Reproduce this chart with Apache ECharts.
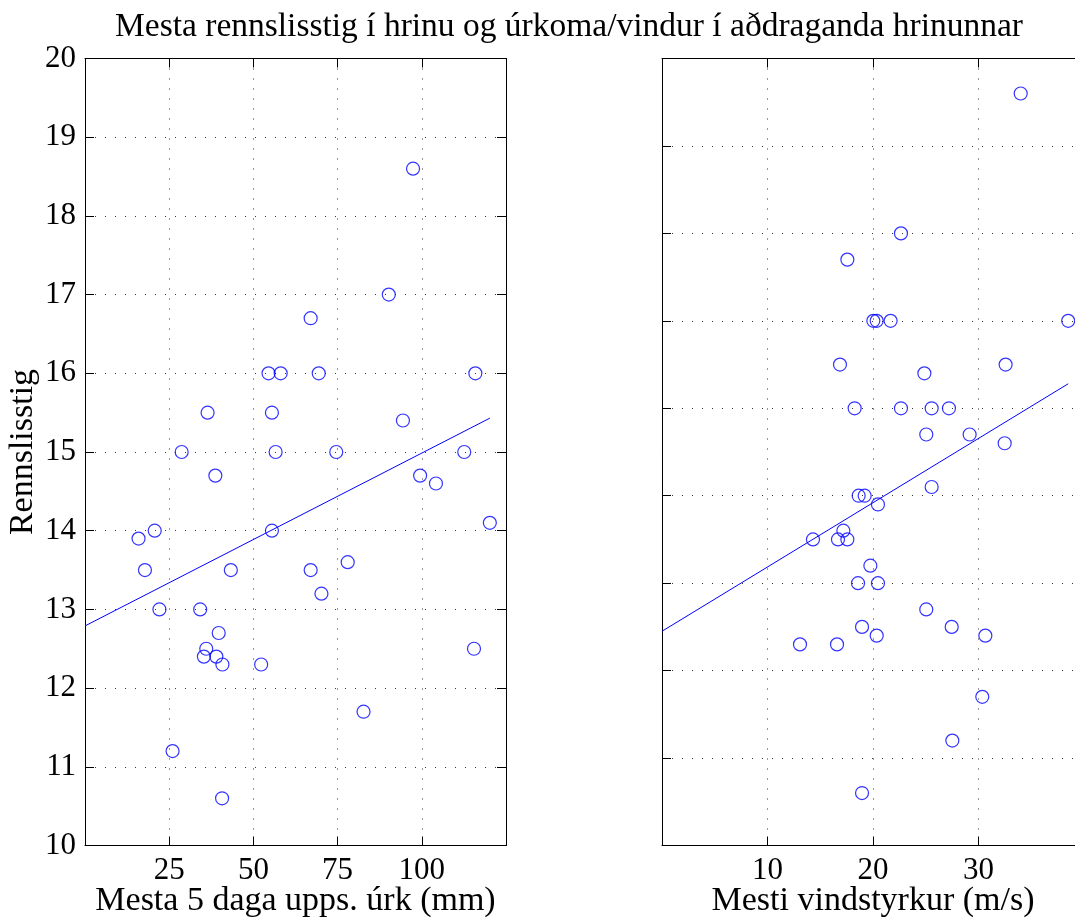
<!DOCTYPE html>
<html><head><meta charset="utf-8">
<script src="https://cdn.jsdelivr.net/npm/echarts@6/dist/echarts.min.js"></script>
<style>html,body{margin:0;padding:0;background:#fff}#c{width:1075px;height:924px}</style>
</head><body><div id="c"></div>
<script>
// Left panel: max 5-day accumulated precipitation (mm) vs rennslisstig
const precipX = [97.4, 90.2, 67.0, 54.5, 58.1, 69.4, 115.9, 36.4, 55.5, 94.4, 28.7, 56.6, 74.6, 112.6, 38.7, 99.5, 104.2, 120.2, 55.5, 20.7, 15.9, 17.8, 43.3, 67.0, 78.0, 70.2, 22.1, 34.2, 39.7, 36.0, 35.3, 39.0, 40.8, 52.3, 115.5, 82.7, 26.0, 40.7];
const precipY = [18.6, 17.0, 16.7, 16.0, 16.0, 16.0, 16.0, 15.5, 15.5, 15.4, 15.0, 15.0, 15.0, 15.0, 14.7, 14.7, 14.6, 14.1, 14.0, 14.0, 13.9, 13.5, 13.5, 13.5, 13.6, 13.2, 13.0, 13.0, 12.7, 12.5, 12.4, 12.4, 12.3, 12.3, 12.5, 11.7, 11.2, 10.6];
const precipFitX = [0, 120.2];
const precipFitY = [12.79, 15.43];

// Right panel: max wind speed (m/s) vs rennslisstig
const windX = [34.0, 22.65, 17.57, 20.03, 20.35, 21.67, 38.5, 16.87, 24.87, 32.57, 18.26, 22.65, 25.56, 27.2, 25.05, 29.16, 32.48, 25.56, 18.64, 19.21, 20.47, 17.19, 14.31, 16.68, 17.57, 19.75, 18.58, 20.47, 25.05, 18.96, 27.46, 20.35, 30.65, 13.08, 16.59, 30.36, 27.52, 18.96];
const windY = [18.6, 17.0, 16.7, 16.0, 16.0, 16.0, 16.0, 15.5, 15.4, 15.5, 15.0, 15.0, 15.0, 15.0, 14.7, 14.7, 14.6, 14.1, 14.0, 14.0, 13.9, 13.6, 13.5, 13.5, 13.5, 13.2, 13.0, 13.0, 12.7, 12.5, 12.5, 12.4, 12.4, 12.3, 12.3, 11.7, 11.2, 10.6];
const windFitX = [0, 38.5];
const windFitY = [12.45, 15.28];

const titleText = 'Mesta rennslisstig í hrinu og úrkoma/vindur í aðdraganda hrinunnar';
const xNameLeft = 'Mesta 5 daga upps. úrk (mm)';
const xNameRight = 'Mesti vindstyrkur (m/s)';
const yName = 'Rennslisstig';

const FONT = 'Liberation Serif';
const FS_TICK = 31;
const FS_NAME = 34;
const FS_TITLE = 33.5;
const BLUE = '#0000ff';

function zip(a, b) { return a.map((v, i) => [v, b[i]]); }

const grid = [
  {left: 85, top: 58.5, width: 421, height: 787, outerBoundsMode: 'none', containLabel: false},
  {left: 662, top: 58.5, width: 422, height: 787, outerBoundsMode: 'none', containLabel: false}
];
const lineStyleAxis = {color: '#000', width: 1};
const splitStyle = {show: true, lineStyle: {color: '#333', width: 1, type: [1, 9]}};

function mainX(gi, min, max, interval, hide) {
  return {
    type: 'value', gridIndex: gi, min, max, interval, position: 'bottom',
    axisLine: {show: true, onZero: false, lineStyle: lineStyleAxis},
    axisTick: {show: true, inside: true, length: 9, lineStyle: lineStyleAxis},
    splitLine: splitStyle,
    axisLabel: {show: true, color: '#000', fontFamily: FONT, fontSize: FS_TICK, margin: 10,
      formatter: v => (hide.includes(v) ? '' : String(v))},
  };
}
function boxX(gi, min, max, interval) {
  return {
    type: 'value', gridIndex: gi, min, max, interval, position: 'top',
    axisLine: {show: true, onZero: false, lineStyle: lineStyleAxis},
    axisTick: {show: true, inside: true, length: 9, lineStyle: lineStyleAxis},
    splitLine: {show: false}, axisLabel: {show: false}
  };
}
function mainY(gi, min, max, showLabels) {
  return {
    type: 'value', gridIndex: gi, min, max, interval: 1, position: 'left',
    axisLine: {show: true, onZero: false, lineStyle: lineStyleAxis},
    axisTick: {show: true, inside: true, length: 9, lineStyle: lineStyleAxis},
    splitLine: splitStyle,
    axisLabel: {show: showLabels, color: '#000', fontFamily: FONT, fontSize: FS_TICK, margin: 9}
  };
}
function boxY(gi, min, max) {
  return {
    type: 'value', gridIndex: gi, min, max, interval: 1, position: 'right',
    axisLine: {show: true, onZero: false, lineStyle: lineStyleAxis},
    axisTick: {show: true, inside: true, length: 9, lineStyle: lineStyleAxis},
    splitLine: {show: false}, axisLabel: {show: false}
  };
}
const nameStyle = {color: '#000', fontFamily: FONT, fontSize: FS_NAME};

const xLeft = mainX(0, 0, 125, 25, [0, 125]);
Object.assign(xLeft, {name: xNameLeft, nameLocation: 'middle', nameGap: 39, nameMoveOverlap: false, nameTextStyle: nameStyle});
const xRight = mainX(1, 0, 40, 10, [0, 40]);
Object.assign(xRight, {name: xNameRight, nameLocation: 'middle', nameGap: 39, nameMoveOverlap: false, nameTextStyle: nameStyle});
const yLeft = mainY(0, 10, 20, true);
Object.assign(yLeft, {name: yName, nameLocation: 'middle', nameGap: 44.5, nameMoveOverlap: false, nameTextStyle: nameStyle});

const chart = echarts.init(document.getElementById('c'), null, {renderer: 'canvas'});
chart.setOption({
  animation: false,
  backgroundColor: '#fff',
  title: {
    text: titleText, left: 564, top: 5, textAlign: 'center',
    textStyle: {color: '#000', fontFamily: FONT, fontSize: FS_TITLE, fontWeight: 'normal'}
  },
  grid,
  xAxis: [xLeft, xRight, boxX(0, 0, 125, 25), boxX(1, 0, 40, 10)],
  yAxis: [yLeft, mainY(1, 10, 19, false), boxY(0, 10, 20), boxY(1, 10, 19)],
  series: [
    {type: 'scatter', xAxisIndex: 0, yAxisIndex: 0, data: zip(precipX, precipY),
      symbol: 'circle', symbolSize: 13,
      itemStyle: {color: 'transparent', borderColor: BLUE, borderWidth: 1.2}},
    {type: 'line', xAxisIndex: 0, yAxisIndex: 0, data: zip(precipFitX, precipFitY),
      showSymbol: false, symbol: 'none', lineStyle: {color: BLUE, width: 1}},
    {type: 'scatter', xAxisIndex: 1, yAxisIndex: 1, data: zip(windX, windY),
      symbol: 'circle', symbolSize: 13,
      itemStyle: {color: 'transparent', borderColor: BLUE, borderWidth: 1.2}},
    {type: 'line', xAxisIndex: 1, yAxisIndex: 1, data: zip(windFitX, windFitY),
      showSymbol: false, symbol: 'none', lineStyle: {color: BLUE, width: 1}}
  ]
});
</script></body></html>
